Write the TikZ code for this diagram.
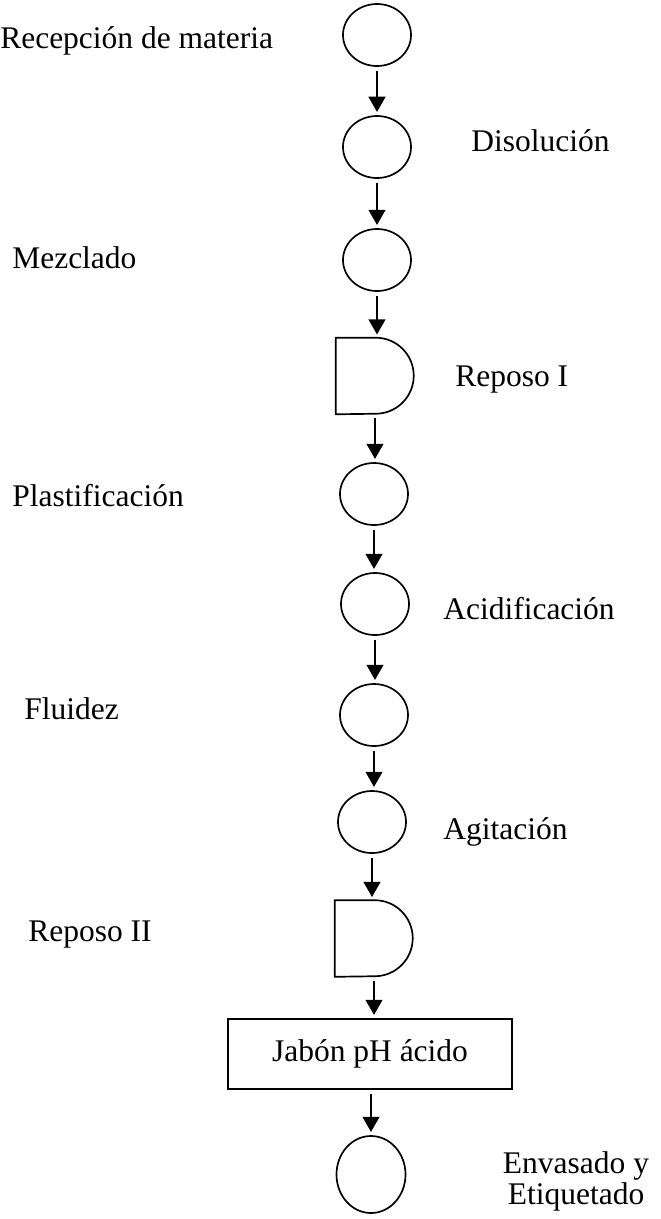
\documentclass[tikz,border=0pt]{standalone}
\usepackage{fontspec}
\setmainfont{Liberation Serif}
\usetikzlibrary{shapes.geometric,arrows.meta}

\tikzset{
  oper/.style={ellipse,draw,line width=1.2pt,inner sep=0pt,minimum width=1.7cm,minimum height=1.55cm},
  delaybox/.style={rectangle,inner sep=0pt,minimum width=1.95cm,minimum height=1.9cm},
  storebox/.style={rectangle,draw,line width=1.2pt,minimum width=7.1cm,minimum height=1.75cm,font=\fontsize{22.4}{22}\selectfont},
  flow/.style={line width=1.4pt,-{Triangle[length=0.38cm,width=0.42cm]},shorten <=0.1cm,shorten >=0.08cm},
  lbl/.style={inner sep=0pt,anchor=base west,font=\fontsize{22.4}{22}\selectfont}
}

\begin{document}
\begin{tikzpicture}[x=0.025cm,y=-0.025cm]%
\useasboundingbox (0,0) rectangle (661,1219);%
% steps of the process
\node[oper] (recep) at (377,35) {};%
\node[oper] (disol) at (377,147) {};%
\node[oper] (mezcla) at (377,260) {};%
\node[delaybox] (repI) at (375,376) {};%
\node[oper] (plast) at (374,494) {};%
\node[oper] (acid) at (375,604) {};%
\node[oper] (fluid) at (374,715) {};%
\node[oper] (agit) at (372,822) {};%
\node[delaybox] (repII) at (374,938.5) {};%
\node[storebox] (jabon) at (370,1054) {Jabón pH ácido};%
\node[oper,minimum width=1.725cm,minimum height=1.925cm] (envas) at (371,1174.5) {};%
% delay shapes
\draw[line width=1.2pt] (repI.north west) -- ++(1.0cm,0) arc[start angle=90,end angle=-90,radius=0.95cm] -- (repI.south west) -- cycle;%
\draw[line width=1.2pt] (repII.north west) -- ++(1.0cm,0) arc[start angle=90,end angle=-90,radius=0.95cm] -- (repII.south west) -- cycle;%
% arrows
\draw[flow] (recep.south) -- (recep.south |- disol.north);%
\draw[flow] (disol.south) -- (disol.south |- mezcla.north);%
\draw[flow] (mezcla.south) -- (mezcla.south |- repI.north);%
\draw[flow] (repI.south) -- (repI.south |- plast.north);%
\draw[flow] (plast.south) -- (plast.south |- acid.north);%
\draw[flow] (acid.south) -- (acid.south |- fluid.north);%
\draw[flow] (fluid.south) -- (fluid.south |- agit.north);%
\draw[flow] (agit.south) -- (agit.south |- repII.north);%
\draw[flow] (repII.south) -- (repII.south |- jabon.north);%
\draw[flow] (jabon.south -| envas.north) -- (envas.north);%
% labels
\node[lbl] (trecep) at (0,48) {Recepción de materia};%
\node[lbl] (tdisol) at (471,151) {Disolución};%
\node[lbl] (tmezcla) at (12,268) {Mezclado};%
\node[lbl] (trepI) at (455,386) {Reposo I};%
\node[lbl] (tplast) at (12,506) {Plastificación};%
\node[lbl] (tacid) at (443,619) {Acidificación};%
\node[lbl] (tfluid) at (24,719) {Fluidez};%
\node[lbl] (tagit) at (443,839) {Agitación};%
\node[lbl] (trepII) at (28,941) {Reposo II};%
\node[lbl,anchor=base,align=center] (tenvas) at (576,1204) {Envasado y\\Etiquetado};%
\end{tikzpicture}
\end{document}
